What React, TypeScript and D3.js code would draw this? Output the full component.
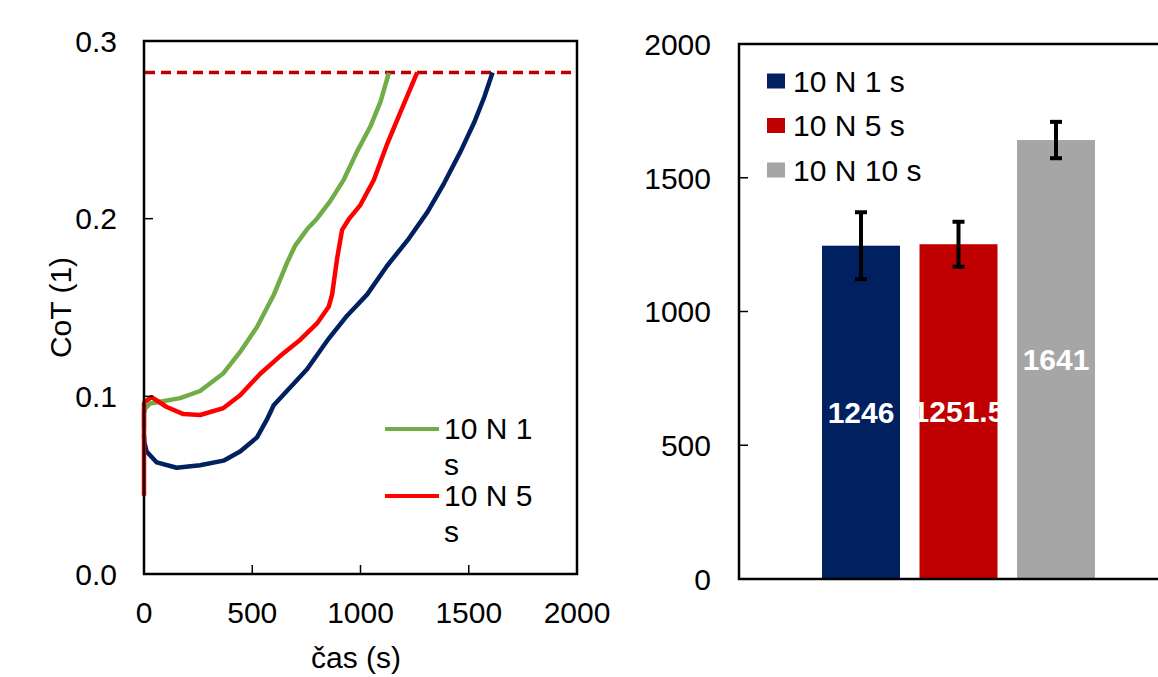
import React, { useRef, useEffect } from 'react';
import * as d3 from 'd3';

// CoT curves (time in s, CoT)
const time1s = [0, 0, 5, 28, 74, 167, 259, 367, 444, 522, 599, 660, 699, 753, 799, 861, 923, 985, 1046, 1093, 1131];
const cot1s = [0.083, 0.09, 0.093, 0.096, 0.097, 0.099, 0.103, 0.113, 0.125, 0.139, 0.157, 0.175, 0.185, 0.194, 0.2, 0.21, 0.222, 0.238, 0.252, 0.266, 0.282];

const time5s = [0, 0, 5, 35, 105, 182, 259, 367, 444, 537, 630, 722, 799, 853, 869, 892, 915, 946, 1000, 1062, 1123, 1185, 1262];
const cot5s = [0.044, 0.096, 0.097, 0.0995, 0.094, 0.09, 0.0895, 0.0934, 0.1006, 0.1127, 0.1228, 0.1319, 0.141, 0.1504, 0.1574, 0.1776, 0.1937, 0.1997, 0.2078, 0.2219, 0.242, 0.2601, 0.2823];

const time10s = [0, 2, 12, 59, 151, 259, 367, 444, 522, 568, 599, 676, 753, 846, 938, 1031, 1123, 1216, 1309, 1386, 1463, 1525, 1571, 1610];
const cot10s = [0.078, 0.074, 0.069, 0.0628, 0.0598, 0.0612, 0.0638, 0.0689, 0.0769, 0.087, 0.095, 0.1051, 0.1152, 0.1313, 0.1454, 0.1574, 0.1735, 0.1876, 0.2037, 0.2199, 0.238, 0.2541, 0.2682, 0.2823];

const cotLimit = 0.2823;

const timeTicks = [0, 500, 1000, 1500, 2000];
const cotTicks = [0, 0.1, 0.2, 0.3];

const lineLegend = [
  ['10 N 1', 's'],
  ['10 N 5', 's'],
];

// bar panel
const barNames = ['10 N 1 s', '10 N 5 s', '10 N 10 s'];
const barValues = [1246, 1251.5, 1641];
const barErrors = [125, 84, 68];
const barLabels = ['1246', '1251.5', '1641'];
const barTicks = [0, 500, 1000, 1500, 2000];

const navy = '#002060';
const darkRed = '#c00000';
const grey = '#a6a6a6';
const font = '"Liberation Sans", Arial, sans-serif';

const App = () => {
  const ref = useRef<SVGSVGElement | null>(null);
  const width = 1158;
  const height = 677;

  useEffect(() => {
    if (!ref.current) return;
    const svg = d3.select(ref.current);
    svg.selectAll('*').remove();

    // ---------- left: CoT vs time ----------
    const L = { left: 144, right: 577, top: 41, bottom: 574 };
    const x = d3.scaleLinear().domain([0, 2000]).range([L.left, L.right]);
    const y = d3.scaleLinear().domain([0, 0.3]).range([L.bottom, L.top]);

    const left = svg.append('g');

    left
      .append('line')
      .attr('x1', L.left + 1)
      .attr('x2', L.right)
      .attr('y1', y(cotLimit))
      .attr('y2', y(cotLimit))
      .attr('stroke', darkRed)
      .attr('stroke-width', 3.5)
      .attr('stroke-dasharray', '10,6');

    const series = [
      { t: time10s, v: cot10s, color: navy },
      { t: time1s, v: cot1s, color: '#70ad47' },
      { t: time5s, v: cot5s, color: '#ff0000' },
    ];
    const line = d3
      .line<[number, number]>()
      .x((d) => x(d[0]))
      .y((d) => y(d[1]))
      .curve(d3.curveLinear);

    series.forEach((s) => {
      left
        .append('path')
        .datum(s.t.map((t, i) => [t, s.v[i]] as [number, number]))
        .attr('d', line)
        .attr('fill', 'none')
        .attr('stroke', s.color)
        .attr('stroke-width', 4.5)
        .attr('stroke-linejoin', 'round');
    });

    left
      .append('rect')
      .attr('x', L.left)
      .attr('y', L.top)
      .attr('width', L.right - L.left)
      .attr('height', L.bottom - L.top)
      .attr('fill', 'none')
      .attr('stroke', '#000')
      .attr('stroke-width', 2.5);

    left
      .selectAll('line.xt')
      .data(timeTicks.slice(1, -1))
      .join('line')
      .attr('x1', (d) => x(d))
      .attr('x2', (d) => x(d))
      .attr('y1', L.bottom)
      .attr('y2', L.bottom - 9)
      .attr('stroke', '#000')
      .attr('stroke-width', 1.5);

    left
      .selectAll('line.yt')
      .data(cotTicks.slice(1, -1))
      .join('line')
      .attr('x1', L.left)
      .attr('x2', L.left + 9)
      .attr('y1', (d) => y(d))
      .attr('y2', (d) => y(d))
      .attr('stroke', '#000')
      .attr('stroke-width', 1.5);

    left
      .selectAll('text.xl')
      .data(timeTicks)
      .join('text')
      .attr('x', (d) => x(d))
      .attr('y', 623)
      .attr('text-anchor', 'middle')
      .text((d) => d);

    left
      .selectAll('text.yl')
      .data(cotTicks)
      .join('text')
      .attr('x', 117)
      .attr('y', (d) => y(d))
      .attr('dy', '0.36em')
      .attr('text-anchor', 'end')
      .text((d) => d3.format('.1f')(d));

    left
      .append('text')
      .attr('x', 356)
      .attr('y', 668)
      .attr('text-anchor', 'middle')
      .text('čas (s)');

    left
      .append('text')
      .attr('transform', `translate(71,${(L.top + L.bottom) / 2}) rotate(-90)`)
      .attr('text-anchor', 'middle')
      .text('CoT (1)');

    const legColors = ['#70ad47', '#ff0000'];
    lineLegend.forEach((lab, i) => {
      const ly = 429 + i * 67;
      left
        .append('line')
        .attr('x1', 385)
        .attr('x2', 439)
        .attr('y1', ly)
        .attr('y2', ly)
        .attr('stroke', legColors[i])
        .attr('stroke-width', 4);
      const t = left.append('text').attr('x', 444).attr('y', ly + 10);
      lab.forEach((part, j) =>
        t
          .append('tspan')
          .attr('x', 444)
          .attr('dy', j === 0 ? 0 : 36)
          .text(part)
      );
    });

    // ---------- right: bars ----------
    const R = { left: 739, right: 1177, top: 44, bottom: 579 };
    const yb = d3.scaleLinear().domain([0, 2000]).range([R.bottom, R.top]);
    const xb = d3
      .scaleBand()
      .domain(barNames)
      .range([R.left + 83, R.left + 356])
      .paddingInner(0.2)
      .paddingOuter(0);
    const colors = [navy, darkRed, grey];

    const right = svg.append('g');

    right
      .selectAll('rect.bar')
      .data(barNames)
      .join('rect')
      .attr('x', (d) => xb(d) || 0)
      .attr('y', (d, i) => yb(barValues[i]))
      .attr('width', xb.bandwidth())
      .attr('height', (d, i) => yb(0) - yb(barValues[i]))
      .attr('fill', (d, i) => colors[i]);

    right
      .selectAll('text.val')
      .data(barNames)
      .join('text')
      .attr('x', (d) => (xb(d) || 0) + xb.bandwidth() / 2)
      .attr('y', (d, i) => yb(barValues[i] / 2))
      .attr('dy', '0.36em')
      .attr('text-anchor', 'middle')
      .attr('fill', '#fff')
      .attr('font-weight', 'bold')
      .text((d, i) => barLabels[i]);

    barNames.forEach((name, i) => {
      const cx = (xb(name) || 0) + xb.bandwidth() / 2;
      const hi = yb(barValues[i] + barErrors[i]);
      const lo = yb(barValues[i] - barErrors[i]);
      const g = right.append('g').attr('stroke', '#000').attr('stroke-width', 4);
      g.append('line').attr('x1', cx).attr('x2', cx).attr('y1', hi).attr('y2', lo);
      g.append('line').attr('x1', cx - 6).attr('x2', cx + 6).attr('y1', hi).attr('y2', hi);
      g.append('line').attr('x1', cx - 6).attr('x2', cx + 6).attr('y1', lo).attr('y2', lo);
    });

    right
      .append('rect')
      .attr('x', R.left)
      .attr('y', R.top)
      .attr('width', R.right - R.left)
      .attr('height', R.bottom - R.top)
      .attr('fill', 'none')
      .attr('stroke', '#000')
      .attr('stroke-width', 2.5);

    right
      .selectAll('line.yt')
      .data(barTicks.slice(1, -1))
      .join('line')
      .attr('x1', R.left)
      .attr('x2', R.left + 9)
      .attr('y1', (d) => yb(d))
      .attr('y2', (d) => yb(d))
      .attr('stroke', '#000')
      .attr('stroke-width', 1.5);

    right
      .selectAll('text.yl')
      .data(barTicks)
      .join('text')
      .attr('x', 711)
      .attr('y', (d) => yb(d))
      .attr('dy', '0.36em')
      .attr('text-anchor', 'end')
      .text((d) => d);

    barNames.forEach((name, i) => {
      const cy = 81 + i * 44.5;
      right
        .append('rect')
        .attr('x', 767)
        .attr('y', cy - 7.5)
        .attr('width', 18)
        .attr('height', 15)
        .attr('fill', colors[i]);
      right
        .append('text')
        .attr('x', 793)
        .attr('y', cy)
        .attr('dy', '0.36em')
        .text(name);
    });
  });

  return (
    <svg
      ref={ref}
      width={width}
      height={height}
      viewBox={`0 0 ${width} ${height}`}
      style={{ position: 'absolute', left: 0, top: 0, background: '#fff' }}
      fontFamily={font}
      fontSize={30}
    />
  );
};

export default App;
